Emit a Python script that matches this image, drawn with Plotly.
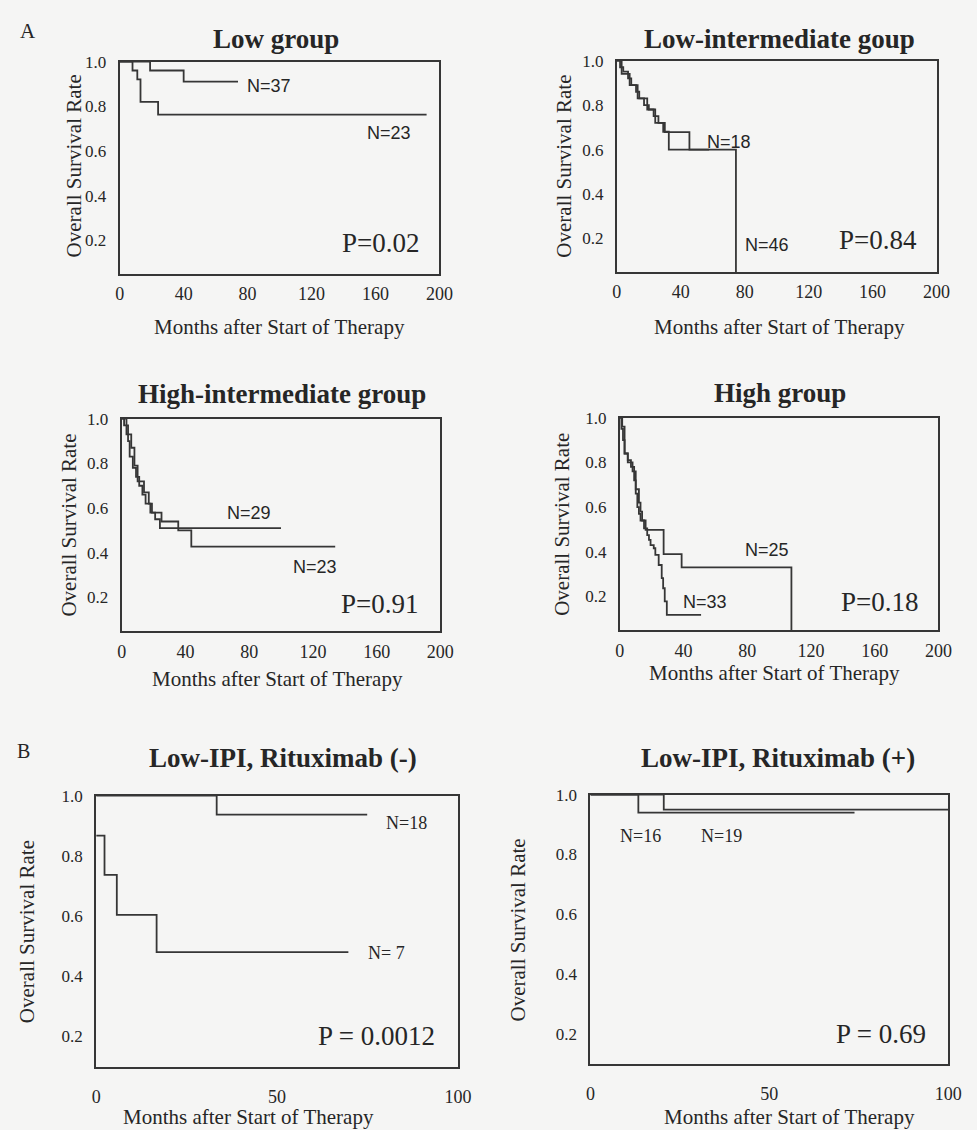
import plotly.graph_objects as go

W, H = 977, 1130

# ---------------- data ----------------
# Panel A1: Low group
low_n37_t = [0, 19, 40, 74]
low_n37_s = [1.0, 0.96, 0.91, 0.91]
low_n23_t = [0, 8, 11, 13, 24, 192]
low_n23_s = [1.0, 0.96, 0.92, 0.82, 0.763, 0.763]

# Panel A2: Low-intermediate group
lowint_n18_t = [0, 3, 8, 13, 19, 24, 30, 45.4, 57.7]
lowint_n18_s = [1.0, 0.94, 0.89, 0.83, 0.78, 0.72, 0.678, 0.60, 0.60]
lowint_n46_t = [0, 2, 4, 7, 9, 12, 14, 17, 20, 23, 26, 29, 32.5, 74.5]
lowint_n46_s = [1.0, 0.97, 0.95, 0.92, 0.89, 0.86, 0.83, 0.80, 0.78, 0.75, 0.72, 0.68, 0.60, 0.0]

# Panel A3: High-intermediate group
highint_n29_t = [0, 1.5, 4, 5, 7, 9, 11, 13, 15, 18, 21, 24, 100]
highint_n29_s = [1.0, 0.97, 0.90, 0.83, 0.78, 0.74, 0.70, 0.66, 0.62, 0.58, 0.55, 0.51, 0.51]
highint_n23_t = [0, 3, 6, 8, 10, 14, 17, 19, 25, 35.5, 43.7, 134]
highint_n23_s = [1.0, 0.93, 0.87, 0.79, 0.72, 0.67, 0.62, 0.58, 0.54, 0.50, 0.428, 0.428]

# Panel A4: High group
high_n25_t = [0, 1.5, 3, 5, 8, 10, 12, 13, 14, 16.2, 27.5, 38.8, 107.7]
high_n25_s = [1.0, 0.96, 0.84, 0.80, 0.76, 0.68, 0.62, 0.58, 0.54, 0.498, 0.39, 0.33, 0.0]
high_n33_t = [0, 1, 2, 3, 5, 7, 9, 10, 11, 12, 13, 15.2, 17.2, 18.3, 19.3, 21.3, 22.3,
              24.4, 26.3, 27.2, 28.2, 29.5, 51]
high_n33_s = [1.0, 0.95, 0.90, 0.84, 0.81, 0.78, 0.72, 0.66, 0.60, 0.57, 0.54, 0.505, 0.475,
              0.453, 0.43, 0.416, 0.386, 0.341, 0.282, 0.237, 0.178, 0.118, 0.118]

# Panel B1: Low-IPI, Rituximab (-)
rneg_n18_t = [0, 33.3, 74.9]
rneg_n18_s = [1.0, 0.937, 0.937]
rneg_n7_t = [0, 2.3, 5.7, 16.7, 69.7]
rneg_n7_s = [0.867, 0.737, 0.604, 0.48, 0.48]

# Panel B2: Low-IPI, Rituximab (+)
rpos_n16_t = [0, 13.4, 73.8]
rpos_n16_s = [1.0, 0.94, 0.94]
rpos_n19_t = [0, 20.5, 100]
rpos_n19_s = [1.0, 0.95, 0.95]

# ---------------- styling ----------------
SERIF = "Liberation Serif, Times New Roman, serif"
SANS = "Liberation Sans, Arial, sans-serif"
INK = "#262626"
LINE = "#363636"
BG = "#f5f5f4"

# panel boxes in pixels: (left, top, right, bottom)
boxes = [
    (117, 53, 443, 267),
    (624, 52, 950, 265),
    (119, 413, 444, 627),
    (627, 412, 952, 626),
    (93, 793, 462, 1066),
    (597, 792, 962, 1063),
]

series = [
    [(low_n37_t, low_n37_s), (low_n23_t, low_n23_s)],
    [(lowint_n18_t, lowint_n18_s), (lowint_n46_t, lowint_n46_s)],
    [(highint_n29_t, highint_n29_s), (highint_n23_t, highint_n23_s)],
    [(high_n25_t, high_n25_s), (high_n33_t, high_n33_s)],
    [(rneg_n18_t, rneg_n18_s), (rneg_n7_t, rneg_n7_s)],
    [(rpos_n16_t, rpos_n16_s), (rpos_n19_t, rpos_n19_s)],
]

fig = go.Figure()
layout = dict(
    width=W, height=H, margin=dict(l=0, r=0, t=0, b=0),
    paper_bgcolor=BG, plot_bgcolor=BG, showlegend=False,
)

for i, (box, sers) in enumerate(zip(boxes, series)):
    k = "" if i == 0 else str(i + 1)
    l, t, r, b = box
    is_b = i >= 4
    xrange = [0, 100] if is_b else [0, 200]
    xt = [0, 50, 100] if is_b else [0, 40, 80, 120, 160, 200]
    yrange = [0.1, 1.0] if is_b else [0.05, 1.0]
    layout["xaxis" + k] = dict(
        domain=[l / W, r / W], range=xrange, tickvals=xt, anchor="y" + k,
        showline=True, mirror=True, linecolor=LINE, linewidth=2, ticks="",
        showgrid=False, zeroline=False, fixedrange=True,
        tickfont=dict(family=SERIF, size=18, color=INK),
        ticklabelstandoff=(13 if is_b else 3),
    )
    layout["yaxis" + k] = dict(
        domain=[1 - b / H, 1 - t / H], range=yrange,
        tickvals=[0.2, 0.4, 0.6, 0.8, 1.0], tickformat=".1f", anchor="x" + k,
        showline=True, mirror=True, linecolor=LINE, linewidth=2, ticks="",
        showgrid=False, zeroline=False, fixedrange=True,
        tickfont=dict(family=SERIF, size=17, color=INK), ticklabelstandoff=8,
    )
    for (tt, ss) in sers:
        fig.add_trace(go.Scatter(
            x=tt, y=ss, mode="lines", line=dict(color=LINE, width=1.8, shape="hv"),
            xaxis="x" + k, yaxis="y" + k, hoverinfo="skip",
        ))

ann = []


def txt(x, y, s, size, family=SERIF, bold=False, angle=0):
    if bold:
        s = "<b>" + s + "</b>"
    ann.append(dict(x=x / W, y=1 - y / H, xref="paper", yref="paper", text=s,
                    showarrow=False, textangle=angle, xanchor="center", yanchor="middle",
                    font=dict(family=family, size=size, color=INK)))


# titles
titles = [
    ("Low group", 276, 30),
    ("Low-intermediate goup", 790, 30),
    ("High-intermediate group", 283, 388),
    ("High group", 790, 387),
    ("Low-IPI, Rituximab (-)", 284, 755),
    ("Low-IPI, Rituximab (+)", 788, 755),
]
for s, x, y in titles:
    txt(x, y, s, 27, bold=True)

# y-axis titles
for x, y in [(70, 158), (570, 158), (65, 520), (568, 519), (22, 930), (523, 928)]:
    txt(x, y, "Overall Survival Rate", 21, angle=-90)

# x-axis titles
for x, y in [(280, 321), (790, 321), (278, 675), (785, 669), (248, 1117), (800, 1117)]:
    txt(x, y, "Months after Start of Therapy", 21)

# N labels
for s, x, y, fam in [
    ("N=37", 269, 78, SANS), ("N=23", 392, 125, SANS),
    ("N=18", 738, 134, SANS), ("N=46", 777, 238, SANS),
    ("N=29", 249, 508, SANS), ("N=23", 316, 562, SANS),
    ("N=25", 777, 545, SANS), ("N=33", 714, 598, SANS),
    ("N=18", 409, 821, SERIF), ("N= 7", 389, 952, SERIF),
    ("N=16", 648, 834, SERIF), ("N=19", 731, 834, SERIF),
]:
    txt(x, y, s, 18, family=fam)

# P values
for s, x, y in [
    ("P=0.02", 383, 236), ("P=0.84", 890, 233), ("P=0.91", 382, 600),
    ("P=0.18", 892, 598), ("P = 0.0012", 379, 1035), ("P = 0.69", 893, 1033),
]:
    txt(x, y, s, 27)

# panel letters
txt(23, 22, "A", 21)
txt(19, 748, "B", 20)

layout["annotations"] = ann
fig.update_layout(**layout)
fig.write_html(
    "out.html",
    config={"displayModeBar": False},
    post_script=(
        "document.documentElement.style.margin='0';"
        "document.body.style.margin='0';document.body.style.padding='0';"
        "var d=document.getElementById('{plot_id}');"
        "d.style.position='absolute';d.style.top='0px';d.style.left='0px';"
    ),
)
